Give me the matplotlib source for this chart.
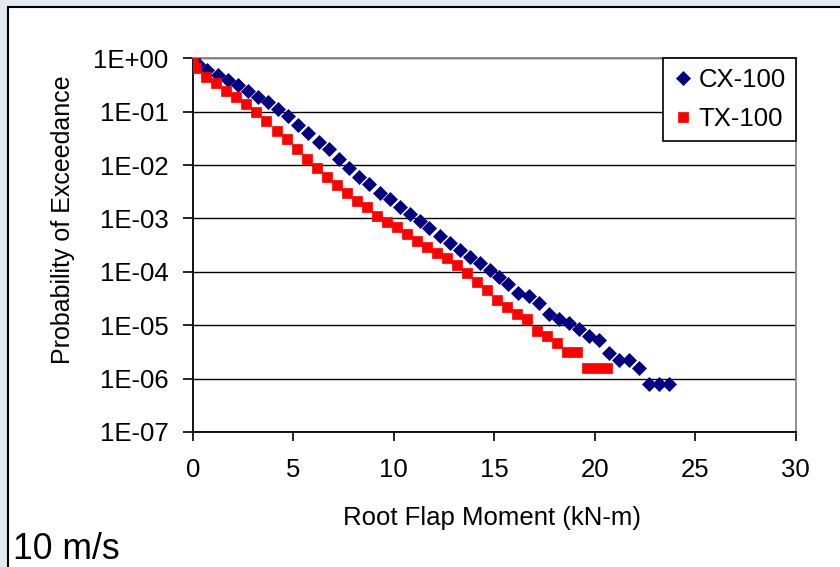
import matplotlib
matplotlib.use("Agg")
import matplotlib.pyplot as plt
from matplotlib.patches import Rectangle

plt.rcParams['font.family'] = ['Liberation Sans', 'DejaVu Sans']

# Root flap moment (kN-m) and probability of exceedance
cx_moment = [0.0, 0.24, 0.73, 1.24, 1.77, 2.27, 2.77, 3.26, 3.76, 4.26,
             4.76, 5.25, 5.75, 6.28, 6.80, 7.29, 7.79, 8.29, 8.79, 9.32,
             9.80, 10.29, 10.79, 11.29, 11.78, 12.30, 12.80, 13.30, 13.80, 14.29,
             14.79, 15.22, 15.70, 16.20, 16.73, 17.23, 17.74, 18.24, 18.74, 19.23,
             19.73, 20.23, 20.73, 21.22, 21.72, 22.22, 22.72, 23.21, 23.71]
cx_prob = [1.0, 0.78, 0.60, 0.49, 0.39, 0.31, 0.247, 0.186, 0.152, 0.111,
           0.083, 0.0564, 0.0394, 0.0274, 0.0198, 0.0130, 0.00894, 0.00607, 0.00443, 0.00304,
           0.00229, 0.00162, 0.00121, 8.97e-4, 6.64e-4, 4.70e-4, 3.52e-4, 2.57e-4, 1.93e-4, 1.45e-4,
           1.09e-4, 7.93e-5, 5.93e-5, 4.07e-5, 3.58e-5, 2.65e-5, 1.63e-5, 1.30e-5, 1.12e-5, 8.42e-6,
           6.30e-6, 5.31e-6, 3.07e-6, 2.24e-6, 2.24e-6, 1.57e-6, 7.8e-7, 7.8e-7, 7.8e-7]

tx_moment = [0.0, 0.16, 0.66, 1.16, 1.66, 2.15, 2.65, 3.15, 3.65, 4.18,
             4.68, 5.17, 5.67, 6.17, 6.67, 7.16, 7.66, 8.19, 8.69, 9.18,
             9.68, 10.18, 10.68, 11.17, 11.67, 12.17, 12.67, 13.16, 13.66, 14.16,
             14.66, 15.12, 15.62, 16.12, 16.62, 17.11, 17.61, 18.11, 18.61, 19.10,
             19.63, 20.13, 20.63]
tx_prob = [1.0, 0.667, 0.452, 0.340, 0.247, 0.186, 0.139, 0.0975, 0.0670, 0.0441,
           0.0304, 0.0198, 0.0129, 0.00871, 0.00607, 0.00424, 0.00296, 0.00215, 0.00162, 0.00113,
           8.42e-4, 6.84e-4, 5.13e-4, 3.84e-4, 2.89e-4, 2.29e-4, 1.80e-4, 1.35e-4, 9.41e-5, 6.55e-5,
           4.58e-5, 2.98e-5, 2.23e-5, 1.63e-5, 1.31e-5, 7.92e-6, 6.38e-6, 4.72e-6, 3.21e-6, 3.21e-6,
           1.57e-6, 1.57e-6, 1.57e-6]

x_ticks = [0, 5, 10, 15, 20, 25, 30]
y_ticks = [1e0, 1e-1, 1e-2, 1e-3, 1e-4, 1e-5, 1e-6, 1e-7]
y_labels = ['1E+00', '1E-01', '1E-02', '1E-03', '1E-04', '1E-05', '1E-06', '1E-07']

fig = plt.figure(figsize=(8.4, 5.67), dpi=100, facecolor='#e3e9f0')
# slide frame behind the chart
fig.patches.append(Rectangle((8 / 840, -0.1), 1.1, 1.1 - 7.3 / 567,
                             transform=fig.transFigure, facecolor='white',
                             edgecolor='black', linewidth=1.5, zorder=-1))

ax = fig.add_axes([0.2294, 0.2381, 0.7179, 0.6591])
ax.set_facecolor('white')

ax.plot(cx_moment, cx_prob, linestyle='none', marker='D', markersize=6.8,
        markeredgewidth=0.5, color='#000080', label='CX-100', zorder=3)
ax.plot(tx_moment, tx_prob, linestyle='none', marker='s', markersize=6.6,
        markeredgewidth=0.5, color='#ff0000', label='TX-100', zorder=4)

ax.set_yscale('log')
ax.set_xlim(0, 30)
ax.set_ylim(1e-7, 1e0)
ax.set_xticks(x_ticks)
ax.set_yticks(y_ticks)
ax.set_yticklabels(y_labels)
ax.yaxis.set_minor_locator(plt.NullLocator())
ax.xaxis.set_minor_locator(plt.NullLocator())

ax.set_axisbelow(True)
ax.grid(axis='y', color='black', linewidth=1.0)
ax.spines['left'].set_color('black')
ax.spines['bottom'].set_color('black')
ax.spines['top'].set_color('#888888')
ax.spines['right'].set_color('#888888')
for s in ax.spines.values():
    s.set_linewidth(1.3)

ax.tick_params(axis='x', direction='out', length=6.5, width=1.2, pad=12,
               labelsize=18.5, colors='black')
ax.tick_params(axis='y', direction='out', length=7, width=1.2, pad=10.5,
               labelsize=18.5, colors='black')

ax.set_xlabel('Root Flap Moment (kN-m)', fontsize=18.5, va='baseline')
ax.xaxis.set_label_coords(0.496, -0.249)
ax.set_ylabel('Probability of Exceedance', fontsize=18, va='center')
ax.yaxis.set_label_coords(-0.2146, 0.567)

leg = ax.legend(loc='upper right', bbox_to_anchor=(1.0, 1.0), borderaxespad=0,
                fontsize=18.5, numpoints=1, frameon=True, fancybox=False,
                handlelength=0.8, handletextpad=0.2, borderpad=0.38,
                labelspacing=0.6)
leg.get_frame().set_edgecolor('black')
leg.get_frame().set_linewidth(1.2)
leg.get_frame().set_alpha(1)

fig.text(13 / 840, 8 / 567, '10 m/s', fontsize=25.6, va='baseline', ha='left')

fig.savefig('out.png', dpi=100, facecolor=fig.get_facecolor())
